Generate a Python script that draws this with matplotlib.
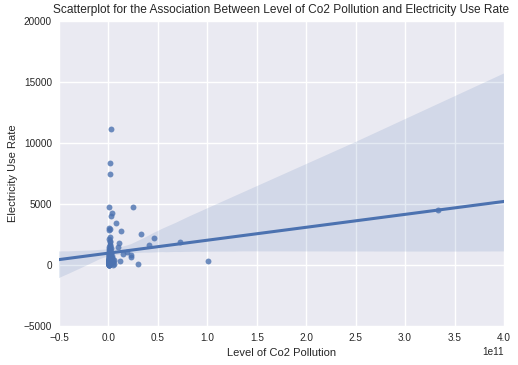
import numpy as np
import matplotlib
matplotlib.use('Agg')
import matplotlib.pyplot as plt
import seaborn as sns

# co2 emissions (raw) and electricity use per person
co2_far = [2.3e9, 1.3e9, 1.3e9, 0.3e9, 24.5e9, 3.3e9, 2.5e9, 7.4e9, 12.4e9, 32.6e9,
           45.8e9, 40.7e9, 72e9, 100.3e9, 29.6e9, 333e9, 0.2e9, 1.2e9, 0.5e9, 0.2e9,
           1.8e9, 10.4e9, 10e9, 22.5e9, 23e9, 14.4e9, 18.9e9, 12e9, 5e9]
elec_far = [11150, 8330, 7430, 4730, 4730, 4240, 4020, 3420, 2790, 2520,
            2190, 1620, 1860, 300, 80, 4500, 3010, 2950, 2900, 2110,
            2320, 1830, 1500, 820, 630, 880, 1090, 350, 0]

co2_near = [0.1e9, 0.2e9, 0.3e9, 0.4e9, 0.5e9, 0.6e9, 0.8e9, 1.0e9, 1.2e9, 1.5e9,
            0.1e9, 0.2e9, 0.3e9, 0.4e9, 0.5e9, 0.7e9, 0.9e9, 1.1e9, 1.4e9, 1.8e9,
            0.1e9, 0.2e9, 0.3e9, 0.4e9, 0.6e9, 0.8e9, 1.0e9, 1.3e9, 1.7e9, 2.2e9,
            0.1e9, 0.2e9, 0.3e9, 0.5e9, 0.7e9, 0.9e9, 1.2e9, 1.6e9, 2.0e9, 2.6e9,
            0.1e9, 0.2e9, 0.4e9, 0.5e9, 0.7e9, 1.0e9, 1.3e9, 1.9e9, 2.4e9, 3.0e9,
            0.1e9, 0.3e9, 0.4e9, 0.6e9, 0.8e9, 1.1e9, 1.5e9, 2.1e9, 2.8e9, 3.5e9,
            0.1e9, 0.2e9, 0.3e9, 0.5e9, 0.6e9, 0.9e9, 1.2e9, 1.6e9, 2.3e9, 4.2e9,
            0.2e9, 0.4e9, 0.6e9, 1.0e9, 1.4e9, 2.0e9, 3.2e9, 4.8e9, 5.5e9, 6.0e9,
            0.1e9, 0.2e9, 0.3e9, 0.4e9, 0.5e9, 0.7e9, 0.9e9, 1.1e9, 1.6e9, 2.5e9,
            0.1e9, 0.2e9, 0.3e9, 0.4e9, 0.6e9, 0.8e9, 1.0e9, 1.4e9, 2.0e9, 3.8e9]
elec_near = [20, 60, 110, 150, 230, 300, 380, 450, 520, 600,
             40, 90, 170, 260, 340, 420, 510, 650, 730, 820,
             30, 130, 210, 310, 400, 480, 560, 700, 900, 1000,
             70, 190, 280, 360, 620, 780, 950, 1100, 1250, 1400,
             50, 240, 330, 470, 680, 860, 1050, 1200, 300, 150,
             100, 440, 530, 760, 1150, 1350, 1500, 250, 450, 700,
             10, 320, 590, 880, 1300, 1450, 1650, 1900, 600, 350,
             80, 180, 420, 980, 1600, 2000, 550, 250, 120, 400,
             15, 45, 85, 120, 160, 200, 270, 330, 390, 460,
             25, 65, 95, 140, 180, 220, 290, 350, 420, 540]

co2 = np.array(co2_far + co2_near)
elec = np.array(elec_far + elec_near)

plt.rcParams['font.family'] = ['Liberation Sans', 'DejaVu Sans']
plt.rcParams['axes.facecolor'] = '#EAEAF2'
plt.rcParams['axes.edgecolor'] = 'white'
plt.rcParams['grid.color'] = 'white'
plt.rcParams['axes.axisbelow'] = True

fig = plt.figure(figsize=(5.18, 3.65), dpi=100)
ax = fig.add_axes([59/518, 1 - 326/365, 445/518, 305/365])
ax.grid(True, linewidth=1)
for s in ax.spines.values():
    s.set_visible(False)
ax.set_xlim(-0.5e11, 4e11)
ax.set_ylim(-5000, 20000)

sns.regplot(x=co2, y=elec, ax=ax, truncate=False, color='#4C72B0', seed=3,
            scatter_kws={'s': 18, 'alpha': 0.8, 'linewidths': 0},
            line_kws={'linewidth': 2.2})

ax.set_xlim(-0.5e11, 4e11)
ax.set_ylim(-5000, 20000)
ax.tick_params(length=0, labelsize=7.2, colors='#262626', pad=5)
ax.xaxis.get_offset_text().set_fontsize(7.2)
ax.set_xlabel('Level of Co2 Pollution', fontsize=8, color='#262626')
ax.set_ylabel('Electricity Use Rate', fontsize=8, color='#262626')
ax.set_title('Scatterplot for the Association Between Level of Co2 Pollution and Electricity Use Rate',
             fontsize=8.6, color='#262626')

fig.savefig('out.png', dpi=100)
